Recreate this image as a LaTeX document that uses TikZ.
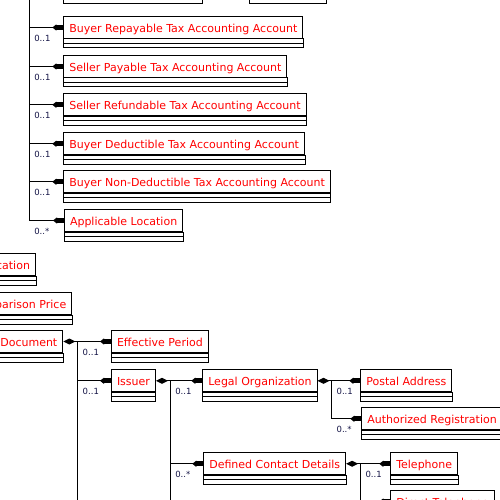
\documentclass[tikz,border=0pt]{standalone}
\usepackage{fontspec}
\setmainfont{DejaVu Sans}
\usetikzlibrary{arrows.meta}
\tikzstyle{comps}=[draw, line width=1pt, to path={rectangle (\tikztotarget)}]
\tikzstyle{cls}=[draw, line width=1pt, inner xsep=5.5pt, inner ysep=0pt, minimum height=22pt, text height=12pt, text depth=2.5pt, text=red, font=\fontsize{11}{13}\selectfont, anchor=north west,
    append after command={(\tikzlastnode.south west) edge[comps] ([yshift=-4.5pt]\tikzlastnode.south east)
        ([yshift=-4.5pt]\tikzlastnode.south west) edge[comps] ([yshift=-9pt]\tikzlastnode.south east)}]
\tikzstyle{cutcls}=[cls, anchor=north east, text width=100pt, align=right]
\tikzstyle{topcls}=[cls, anchor=south west]
\tikzstyle{link}=[line width=1pt]
\tikzstyle{assoc}=[link, -{Triangle[reversed, length=4pt, width=6pt]Rectangle[length=7pt, width=5pt]}]
\tikzstyle{comp}=[link, {Diamond[length=12pt, width=6pt]}-]
\tikzstyle{mult}=[anchor=north west, inner sep=0pt, xshift=4.5pt, yshift=-7pt, font=\fontsize{8.5}{10}\selectfont, text={rgb,255:red,20;green,20;blue,70}]

\begin{document}
\begin{tikzpicture}[x=1pt, y=-1pt]
    \useasboundingbox (0,0) rectangle (500,500);
    \clip (0,0) rectangle (500,500);

    % tax accounts
    \node[topcls, minimum width=138pt] (top1) at (63.3, -5.7) {};
    \node[topcls, minimum width=75.6pt] (top2) at (249.7, -5.7) {};
    \node[cls] (rep) at (63.3, 16) {Buyer Repayable Tax Accounting Account};
    \node[cls] (selpay) at (63.3, 55) {Seller Payable Tax Accounting Account};
    \node[cls] (selref) at (63.3, 93.3) {Seller Refundable Tax Accounting Account};
    \node[cls] (buyded) at (63.3, 132.3) {Buyer Deductible Tax Accounting Account};
    \node[cls] (buynon) at (63.3, 170.3) {Buyer Non-Deductible Tax Accounting Account};
    \node[cls] (apploc) at (64, 209) {Applicable Location};
    \coordinate (acc) at (29.3, -10);
    \draw[link] (acc) -- (acc |- apploc.west);
    \draw[assoc] (acc |- rep.west) -- node[mult, pos=0] {0..1} (rep.west);
    \draw[assoc] (acc |- selpay.west) -- node[mult, pos=0] {0..1} (selpay.west);
    \draw[assoc] (acc |- selref.west) -- node[mult, pos=0] {0..1} (selref.west);
    \draw[assoc] (acc |- buyded.west) -- node[mult, pos=0] {0..1} (buyded.west);
    \draw[assoc] (acc |- buynon.west) -- node[mult, pos=0] {0..1} (buynon.west);
    \draw[assoc] (acc |- apploc.west) -- node[mult, pos=0] {0..*} (apploc.west);

    % cut-off classes on the left
    \node[cutcls] (loc) at (36, 253.3) {cation};
    \node[cutcls] (cmp) at (72.3, 292.3) {parison Price};
    \node[cutcls] (doc) at (63.3, 330) {Document};

    \node[cls] (eff) at (111, 330) {Effective Period};
    \node[cls] (iss) at (111, 369.3) {Issuer};
    \node[cls] (legal) at (202.3, 369.3) {Legal Organization};
    \node[cls] (postal) at (360.3, 369.3) {Postal Address};
    \node[cls] (authreg) at (361.3, 407.3) {Authorized Registration};
    \node[cls] (contact) at (203.3, 452.3) {Defined Contact Details};
    \node[cls] (tel) at (390.3, 452.3) {Telephone};
    \node[cls] (dirtel) at (390.3, 490) {Direct Telephone};

    \coordinate (docbus) at ([xshift=14.4pt]doc.east);
    \draw[comp] (doc.east) -- (docbus);
    \draw[link] (docbus) -- ++(0, 200);
    \draw[assoc] (docbus) -- node[mult, pos=0] {0..1} (eff.west);
    \draw[assoc] (docbus |- iss.west) -- node[mult, pos=0] {0..1} (iss.west);

    \coordinate (issbus) at ([xshift=14.3pt]iss.east);
    \draw[comp] (iss.east) -- (issbus);
    \draw[link] (issbus) -- ++(0, 150);
    \draw[assoc] (issbus) -- node[mult, pos=0] {0..1} (legal.west);
    \draw[assoc] (issbus |- contact.west) -- node[mult, pos=0] {0..*} (contact.west);

    \coordinate (legbus) at ([xshift=14pt]legal.east);
    \draw[comp] (legal.east) -- (legbus);
    \draw[assoc] (legbus) -- node[mult, pos=0] {0..1} (postal.west);
    \draw[assoc] (legbus) |- node[mult, pos=0.5] {0..*} (authreg.west);

    \coordinate (conbus) at ([xshift=14.4pt]contact.east);
    \draw[comp] (contact.east) -- (conbus);
    \draw[link] (conbus) -- ++(0, 60);
    \draw[assoc] (conbus) -- node[mult, pos=0] {0..1} (tel.west);
    \draw[assoc] (conbus |- dirtel.west) -- (dirtel.west);
\end{tikzpicture}
\end{document}
